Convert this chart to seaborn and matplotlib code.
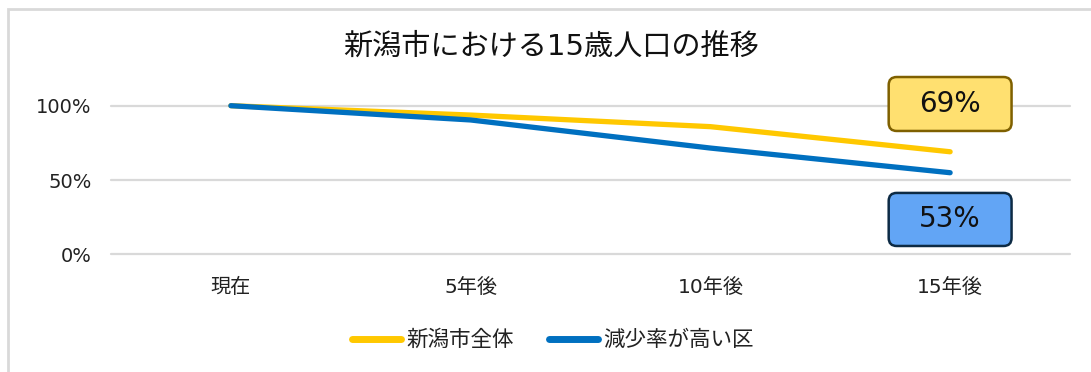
import matplotlib
matplotlib.use("Agg")
import matplotlib.pyplot as plt
import seaborn as sns
import pandas as pd
from matplotlib.patches import FancyBboxPatch, Rectangle
from matplotlib.ticker import PercentFormatter

# ---- data ----
categories = ["現在", "5年後", "10年後", "15年後"]
niigata_all = [1.00, 0.937, 0.859, 0.69]
high_decline = [1.00, 0.904, 0.715, 0.549]
series_names = ["新潟市全体", "減少率が高い区"]
end_labels = ["69%", "53%"]
yticks = [0, 0.5, 1.0]
title = "新潟市における15歳人口の推移"

df = pd.DataFrame({
    "category": categories * 2,
    "value": niigata_all + high_decline,
    "series": [series_names[0]] * 4 + [series_names[1]] * 4,
})

sns.set_theme(style="white")
plt.rcParams["font.family"] = ["DejaVu Sans", "Noto Sans CJK JP"]

fig = plt.figure(figsize=(10.91, 3.72), dpi=100)
W, H = 1091, 372
ax = fig.add_axes([111 / W, (H - 254.3) / H, (1070 - 111) / W, 148.6 / H])

colors = {series_names[0]: "#FFC800", series_names[1]: "#0070C0"}
sns.lineplot(data=df, x="category", y="value", hue="series", palette=colors,
             linewidth=3.8, ax=ax, sort=False, legend=True)
for ln in ax.lines:
    ln.set_solid_capstyle("round")
    ln.set_clip_on(False)

ax.set_xlim(-0.5, 3.5)
ax.set_ylim(0, 1.0)
ax.set_yticks(yticks)
ax.yaxis.set_major_formatter(PercentFormatter(1.0, decimals=0))
ax.grid(axis="y", color="#D9D9D9", linewidth=1.6)
for gl in ax.get_ygridlines():
    gl.set_clip_on(False)
ax.set_axisbelow(True)
for s in ax.spines.values():
    s.set_visible(False)
ax.set_xlabel("")
ax.set_ylabel("")
ax.tick_params(axis="y", length=0, pad=14, labelsize=14, labelcolor="#222222")
ax.tick_params(axis="x", length=0, pad=17, labelsize=14.5, labelcolor="#222222")

# end-value boxes
box_specs = [
    (end_labels[0], 0.83, 1.193, "#FFE070", "#7F6000"),
    (end_labels[1], 0.056, 0.413, "#62A5F5", "#0D2B45"),
]
bw = 123 / 240
xr = 8 / 240
for txt, y0, y1, fc, ec in box_specs:
    p = FancyBboxPatch((3 - bw / 2, y0), bw, y1 - y0,
                       boxstyle=f"round,pad=0,rounding_size={xr}",
                       mutation_aspect=(8 / 148.6) / xr,
                       facecolor=fc, edgecolor=ec, linewidth=1.8,
                       transform=ax.transData, clip_on=False, zorder=5)
    ax.add_patch(p)
    ax.text(3, (y0 + y1) / 2, txt, ha="center", va="center", fontsize=20,
            color="#111111", zorder=6, clip_on=False)

# legend
handles, labels = ax.get_legend_handles_labels()
ax.get_legend().remove()
leg = fig.legend(handles, labels, loc="center", bbox_to_anchor=(553 / W, 1 - 340 / H),
                 ncol=2, frameon=False, fontsize=15.5, handlelength=2.3,
                 handletextpad=0.25, columnspacing=1.6)
for lh in leg.get_lines():
    lh.set_linewidth(5)
    lh.set_solid_capstyle("round")
for t in leg.get_texts():
    t.set_color("#222222")

# title
fig.text(551 / W, 1 - 47 / H, title, ha="center", va="center", fontsize=21,
         color="#111111")

# outer frame
fig.patches.append(Rectangle((8 / W, -0.1), 1.2, 1 - 9 / H + 0.1,
                             transform=fig.transFigure, fill=False,
                             edgecolor="#D9D9D9", linewidth=2))

fig.savefig("out.png", dpi=100)
